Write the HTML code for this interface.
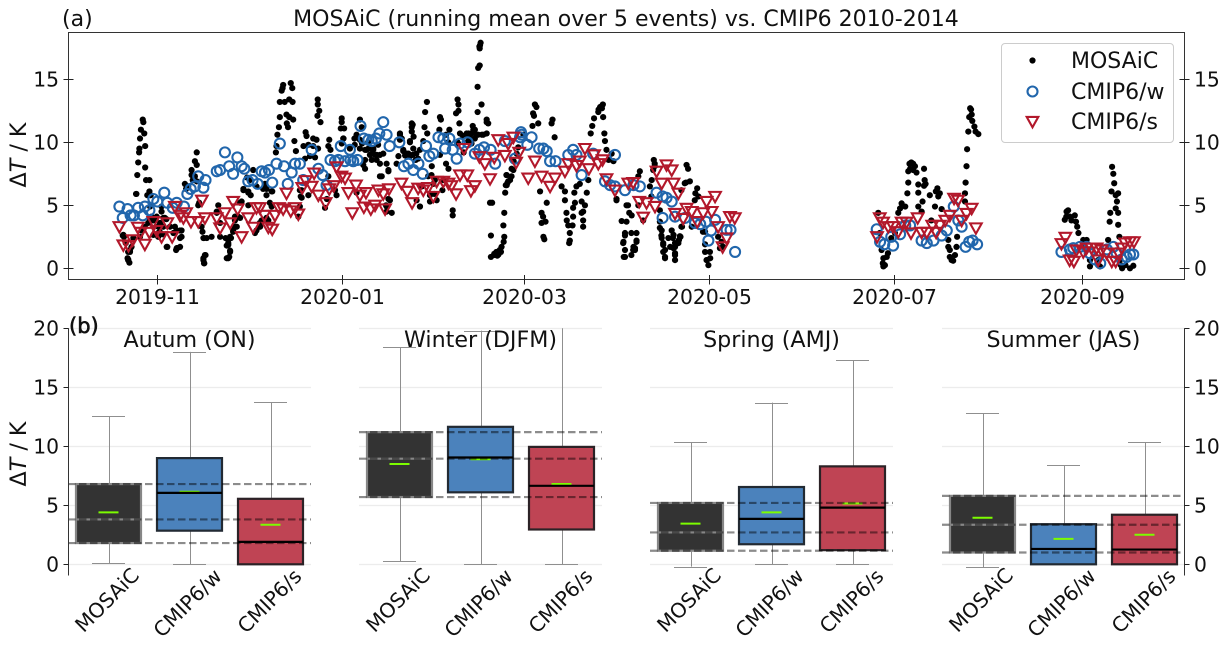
<!DOCTYPE html>
<html lang="en">
<head>
<meta charset="utf-8">
<title>MOSAiC vs CMIP6</title>
<style>
html,body{margin:0;padding:0;background:#fff;}
svg{display:block;}
text{font-family:"DejaVu Sans","Liberation Sans",sans-serif;fill:#111;}
</style>
</head>
<body>
<svg id="chart" xmlns="http://www.w3.org/2000/svg" width="1228" height="646" viewBox="0 0 1228 646">
  <rect x="0" y="0" width="1228" height="646" fill="#fff"/>
  <g id="panelA"></g>
  <g id="panelB"></g>
  <text x="62" y="26" font-size="22">(a)</text>
  <text x="626" y="26" font-size="22.05" text-anchor="middle">MOSAiC (running mean over 5 events) vs. CMIP6 2010-2014</text>
  <text transform="translate(26,155) rotate(-90)" font-size="22.2" text-anchor="middle">Δ<tspan font-style="italic">T</tspan> / K</text>
  <text transform="translate(26,454) rotate(-90)" font-size="22.2" text-anchor="middle">Δ<tspan font-style="italic">T</tspan> / K</text>
  <text x="69" y="333" font-size="21" stroke="#111" stroke-width="0.6">(b)</text>
  <g id="legend"></g>
</svg>
<script>
// Panel (a): x ticks
const dateTickDays = [0, 61, 121, 182, 243, 305];
const dateTickLabels = ['2019-11', '2020-01', '2020-03', '2020-05', '2020-07', '2020-09'];
const valueTicks = [0, 5, 10, 15];

// Each pair: [days since 2019-11-01, delta T in K]
const mosaicPoints = [
[-4.8,11.8],[-4.6,11.6],[-5.4,11],[-4.3,10.7],[-5.7,10.3],[-5.9,9.5],[-4,9.7],[-6,9.2],[-6.3,8.4],[-4,8],[-6.6,7.4],[-3.7,7],[-2.6,7],[-6.9,5.9],[-2.6,6.1],[-3.3,5.8],[-2.2,5.8],
[-9.6,0.7],[-9.2,0.45],[-9.8,0.8],[-9.6,1.3],[-9,1.3],[-11.4,2.6],[-11,2.5],[-10.4,2],[-8.5,1.7],[-7.9,2.4],[-5.7,2.5],[-5.2,3],[-4.1,3.3],[-3,3.6],[-2.4,3.8],[-1.3,3.8],[-2.4,4.9],[-1.9,4.1],[-0.2,4.1],[0.3,3.3],[0.3,2.5],[1.4,4.5],[2,3.3],[3.3,1.7],[6.2,1.45],[6.6,1.6],[7.5,1.7],[7.5,2.4],[5.8,3.3],[6.4,3],[7.5,3],[4.2,3.3],[5.3,2.8],[0.8,2.9],[1.7,2.7],[2.5,4],[3,3.9],
[-7,5.9],[-11.2,2.65],[-9,1.45],[-9.6,0.65],[3.1,1.7],[6.4,1.6],[8,2.5],[8,3],[0.9,3.6],[-1.3,2.65],[0.3,2.8],[2,4],[1.4,4.9],[10.2,6.5],[13.5,5],
[9.1,6.7],[9.5,6.3],[11.3,7.8],[11.3,7.4],[12.4,8.5],[13,8.2],[13,9.2],[12.4,7.3],[13,6.9],[11.7,7],[13.8,5.2],[14.6,3.3],[14.9,2.9],[15.4,2.4],[16.3,2.4],[17.9,2.5],[20.7,2.5],[15.9,1.05],[15.2,0.8],[15.4,0.4],[22.9,1.8],[24.3,2.4],[22.5,2.4],[23.4,2],[24,1.4],[23.4,0.8],[23.7,0.9],[20.1,5],[19.6,4.4],[20.7,3.6],[25.6,3.8],[26.2,3.3],[25,3],[27.3,5.2],[27.8,5.3],[26.7,4.1],[28.4,6.3],[30,6.1],[30.8,5.8],[31.6,7.8],[32.7,6.5],[34.9,6.3],[35.5,6.7],[36,5.8],[37.9,6.1],[33.8,3.6],[32.2,2.8],[32.7,3],[34.4,3.8],[37.1,5.2],[37.7,4.9],[36.6,3.8],[30.5,7],[29.6,7.2],
[15.2,2.4],[23.4,2.25],[24,2.5],[23.4,1.85],[24,1.3],[15.7,1.05],[15.2,0.65],[15.5,0.4],[22.9,0.8],[19.6,4.5],[25.6,3.3],[25,2.9],[25.6,4.1],[33.9,3.3],[36,4],[27.3,4],[28.4,6.2],[30,6],[36,6.3],[37.7,6.1],[30,5],[37.7,5],
[41.5,14.55],[44,14.7],[41.3,14.3],[41,14.1],[44.5,14.3],[40.4,13.2],[42,13.2],[43.5,13.4],[44.6,13.2],[40.4,12],[42.6,12.2],[43.5,12],[44.8,11.8],[42.7,11.5],[43.1,11.2],[40.1,11.2],[39.6,10.6],[39.3,9.7],[39.1,9.2],[45.2,10.1],[45.7,9.3],
[48.9,10.8],[49.2,10.5],[52.9,13.4],[52.9,13],[53.4,12.5],[52.8,12.1],[53.8,11.6],[51.4,10.3],[52.5,10.2],[49.8,9.8],[51.4,9.7],[48.2,9.7],[53,9.5],[50.3,8.9],[52,8.8],[48.7,8.7],[56.7,10.2],[56.4,9.7],[57.1,9.4],[47.3,5.7],[47.6,6.2],[47,4.9],[46.5,4.1],[55.3,4.8],[55.9,5.5],[59.1,5.8],[58.6,6.2],[56.4,7.3],[47,6.2],[49.8,5.8],[47.6,5.6],[60.8,11.9],[60.8,11.6],[60.5,11.1],[61.6,11.1],[61.3,10.3],[60.8,9.9],[63.5,9.5],[66.8,11.8],[67.4,11.2],[65.7,10.4],[65.1,9.8],[66.8,9.5],[69,9.4],[70.1,9],[71.8,9],[73.4,9],[68.5,8.6],[70.7,8.6],[72.3,8.6],[71.2,9.5],[73.4,8.3],[74,7.3],[75.6,8.3],[76.2,7.7],[75.6,4.5],[76.2,5.5],[74.5,9.1],[72.8,9.8],[67.5,9.9],[69.5,10],
[68.5,9.4],[70.7,9.1],[72.3,9],[71.2,9.4],[69.6,9.5],[65.7,10.6],[61.4,10.3],[65,10.3],[66.8,10.2],[67.9,8.2],[68.5,7.9],[73.4,7.3],[76.2,7.8],[81.1,9.3],[82.8,9.1],[81.9,9],[84.2,9],[85.4,9.1],[86.6,9.4],[86,8.7],[87.7,10.1],[84.2,11.4],[83.3,10],[80,10.7],[80,10.2],[90.4,7.4],[91.5,7],[94.3,7],[95.2,8.3],[93.2,9],[95.9,10],[99.2,9.9],[103.6,10.7],[102.5,10.1],[104.7,10.3],[105.8,10.6],[108.6,10.7],[103.6,9.9],[102,10.7],[104.7,11],[108.6,11.6],[107,10.6],[115.2,7.4],[116.3,7],[115.2,6.6],[117.4,7.8],[114.7,6],[89.9,5.8],[91,6.7],[86.6,4.9],[76.7,5.4],[77.3,4.4],[65.7,6],[75.6,4.9],[109.7,5.2],
[80,10.6],[80.6,10.3],[83.9,11.5],[83.9,11.2],[83.9,10.85],[84.5,10.45],[83.3,10.1],[81.1,9.4],[82.2,9.1],[81.7,8.95],[83.3,8.9],[78.9,8.3],[84.4,9.5],[79.5,8.9],[85.2,8.6],[75.4,5],[88.9,13.2],[88.3,12.4],[88.1,11.2],[89,10.7],[93.2,12],[93.5,11.8],[93,11],[96.3,11],[95.2,10.6],[90.5,8.1],[89.3,7.3],[92.1,5.4],[89.9,5.3],[86.6,4.9],[85.5,5.4],[91.3,5.9],[87.2,6.5],[94,6.2],[96,7.9],
[99,13.4],[99.3,13],[99.3,12.5],[98.5,12.3],[99.6,11.5],[99.8,10.7],[99,10],[97.4,4.6],[97.4,4.2],[104,11.3],[104.2,11],[102.6,10.7],[103.1,10.4],[105.3,10.6],[107.5,10.6],[108.6,11.8],[109.1,11.5],[105.6,12.4],[106.9,13],[105.6,14.4],[105.8,15.9],[106.3,16.1],[106.2,17.6],[106.6,17.9],[106.4,17.7],[106.3,17.45],[101,9.2],[100.8,10.5],
[110.4,5.2],[114.4,4.4],[114.1,3.4],[110,2.6],[114.4,2.5],[114.2,2.1],[113.5,1.7],[112.9,1.45],[111.8,1.3],[111.1,1.15],[110,0.9],[112.5,1.1],[113.3,1.3],[111,1.05],[112.1,1],
[114.9,6.6],[115.1,7.4],[115.7,6.9],[116.8,7.3],[116.8,7.9],[118.5,9.1],[117.5,8.5],[115.5,6.8],[119,9.6],[124.5,13],[125,12.8],[123.9,12.3],[123.7,11.3],[125.6,11.5],[124.2,12.1],[120.7,10.6],[130.3,11.8],[130,11.5],[131,10.4],[133.3,6.5],[134.4,6.1],[126.2,6.1],[128.4,5.2],[134.4,5.4],[126.7,4.4],[127.2,4.1],[128,3.7],[126.7,3.6],[127.3,2.5],[127.6,2.3],
[134.9,4.4],[137.1,4.8],[138.2,6.5],[139.3,6.7],[137.5,6],[141.6,6],[137.7,5.2],[139.9,5.3],[141,5],[140.4,4.5],[139.9,4.4],[135,3.8],[137.1,4.1],[135.5,3.4],[136.9,3.4],[140.4,3.8],[140.4,3.3],[136,2.8],[136,2.2],[135.8,2],
[146,12.8],[145.5,12.6],[146.9,13],[146.6,12.7],[145.4,12.4],[144,11.9],[147,12],[143.4,11.3],[142.9,10.7],[147.4,10.7],[147.6,10.1],[148.1,9.4],[142.1,7],[149.8,9.1],[150.4,8.5],[148.8,8.6],
[151.4,5.5],[154.7,5],[153.1,3.75],[154.7,3.7],[154.2,2.6],[153.7,2.1],[154.2,1.45],[154.2,0.9],[156.3,2.8],[158,2.8],[158,2.2],[157,1.7],[157.5,1.45],[156.3,1.05],[155.6,4.4],[160.2,3.8],[163.7,8.6],[164,8.3],[163.5,7.8],[165.7,3.2],[166.2,2.6],[166.8,2],[167.4,1.45],[167.4,0.9],[169.6,3],[171.3,2],[170.7,1.7],[170,2.4],[169.1,1.7],[170.7,0.65],[170.7,1.05],[172,2.25],[172.5,2.5],[172.8,3.3],[174.5,8.2],[175,7.9],[175.6,6.9],[174.3,6.8],[172.8,6.2],[178,6.35],[177.4,5.95],[178.4,5.7],[180.6,2.9],[180.6,1.3],[181.2,0.65],[181.7,0.25],[182.3,0.8],[180.6,1.9],[185.5,1.6],[186,2.1],[184.9,2.5],
[164,8.1],[173.9,6.75],[163,7],[162.4,6.5],[159.1,7.7],[158.6,7.3],[177.2,5.4],[162.9,5.7],[151.4,5.4],[155.2,5],[156.4,4.2],[154.2,2.8],[153.6,2],[158,2.1],[156.9,1.45],[157.5,1.6],[153.8,0.9],[165.7,3.7],[166.3,3],[166.3,2.4],[168.5,2.4],[170.2,2.65],[172.3,2.55],[166.8,1.85],[170.7,2],[171.8,2],[170.2,1.6],[166.8,1.3],[170.7,1.2],[167.4,0.8],[173,3.3],[176.2,3.3],[165.7,4.6],[158.6,5],[182.2,1.3],[181.1,0.65],[179.9,2.9],[186.6,1.7],
[239.4,0.15],[239.9,0.25],[239.2,0.4],[240.5,0.9],[239.4,0.8],[240.9,1.2],[238.8,1.45],[242,2.4],[243.2,2.8],[238.2,2.8],[237.7,4.4],[244.3,4.4],[244.9,4.75],[245.4,5.15],[246.6,4.9],[247.3,5.95],[250.9,6],[250.9,6.65],[247.6,6.8],[252.8,6.55],[253,7],[253.3,6.7],[252.8,7.9],[248,8.3],[248.6,8.4],[249.2,8.3],[247.6,7.7],[248.2,7.9],[249.2,7.8],[249.8,8.1],[250.3,7.6],[250.9,4.9],[252.3,5.3],[252,4.5],[254.7,5.8],[255.2,3.8],[256.4,4.9],[256.7,6.1],[258,5.95],[257.2,6.35],[257.5,5.7],[258.6,4.7],[260.8,2.25],[260.8,1.7],[261.3,1.45],[261.3,0.9],[261.9,0.65],[262.4,0.6],[263,1.05],[263.5,1.7],[263.7,2.5],[266.3,5.3],[266.3,5.95],[266.5,6.8],[266.8,8.1],[267,9.45],[267.4,10.85],[267.7,12],[268,12.7],[268.3,12.6],[268.5,12.2],[268.7,11.7],[269.4,11.25],[269.8,10.85],[270.7,10.65],
[299.2,3.85],[299.8,4.5],[300.3,4.6],[300.9,4.1],[299.7,4.1],[301.4,3.8],[302.5,4.2],[302.9,3.7],[303.3,3.3],[303.7,2.8],[305.3,2.25],[306.4,2.25],[305.3,1.7],[307.5,0.65],[307.5,0.15],[310.8,0.15],[310.2,0.65],[313.5,2.25],[314,3.7],[314.2,4.4],[314.8,8.05],[315.2,7.5],[315.5,6.75],[314.6,6.1],[316,5.8],[316.8,5.95],[316.4,5.3],[316,4.75],[316.8,4.4],[316.8,3.45],[317.2,2.5],[317.7,0.25],[318.1,0],[319.2,0.25],[320.7,0],[321.8,0.2],[317.5,0.7]
];

const cmipWarmPoints = [
[-12.5,4.9],[-11.4,4],[-9.8,4.7],[-8.8,4.2],[-7.7,4.2],[-6.3,4.8],[-4.8,4.2],[-4.1,4.9],[-2.6,4.6],[-1.3,5.5],[0,5.3],[2.3,6],[3.3,5.2],[5.1,4.8],[6.4,5.2],[8.8,4.9],[9.9,5.9],[11,6.3],[12.4,6.5],[13.5,7.3],[15.2,6.4],[15.9,7],[19.6,7.7],[20.7,7.8],[22.3,9.2],[23.7,8.1],[25,7.5],[26.4,8.8],[27.8,8.1],[28.7,7.9],[30,6.9],[31.4,7],[33.1,6.7],[34.4,7.7],[35.5,7.6],[36.8,7.8],[37.9,6.8],[39.3,8.3],[40.4,9.9],[41.8,8.1],[43,6.7],[44.3,7.6],[45.4,8.3],[47,8.3],[48.1,7],[50.9,9.4],[53.1,7.9],[54.5,7.4],[55.8,6.6],[57.1,8.6],[58.6,8.5],[59.7,8.6],[60.5,9.7],[61.9,8.5],[63.5,9.4],[63.7,8.6],[64.6,8.5],[66,8.6],[67,11.3],[68.1,10.3],[69.6,10.2],[70.7,10.1],[72.1,10.3],[73.2,10.7],[74.5,11.6],[75.6,10.6],[76.6,9.7],[79.8,10],[81.3,8.1],[82.8,8.3],[84.4,7.8],[86.1,8.3],[87.5,7.5],[88.6,9.7],[89.7,8.9],[91,9.1],[92.7,10.4],[94.3,10.3],[94.9,9.5],[96.3,10.3],[97.4,9.4],[98.7,8.7],[99.8,9.9],[102.3,10],[104.7,9.1],[106.2,9.4],[107.7,9.6],[109.9,9.4],[111.4,8.3],[114.6,10.1],[117.9,8.7],[119.9,10.8],[120.1,10.6],[119.6,10.4],[122,9.8],[123.4,10.4],[125.9,9.5],[127.3,9.5],[128.4,9.3],[129.5,8.5],[131.3,8.5],[135.5,9],[137.1,9.4],[138.2,9],[139.9,7.4],[143.7,9.1],[150.9,9],[147.6,6.9],[149.3,6.6],[150.9,6.5],[154.2,6.2],[157,6.6],[159.1,6.5],[164.6,6],[166.6,5.7],[167.9,5.6],[169.6,5.3],[166.6,4],[170.7,4.1],[174,4],[177.3,3.6],[179,3.5],[180.9,3.7],[181.7,2.2],[182.6,3],[183.9,3.85],[187.7,3.05],[189,3.05],[190.5,1.3],
[237.2,3.1],[238.3,2.1],[239.7,1.9],[242.6,1.8],[242,2.5],[244.9,2.7],[246.6,3.4],[248.2,3.4],[252,2.2],[253.7,2],[255.9,2.2],[258.6,2.6],[260.3,3],[262.6,4.9],[265.2,3.3],[264.1,3.8],[266.5,1.7],[267.7,2.1],[268.8,2.2],[270.3,1.9],
[298.1,1.3],[300.9,1.5],[302,1.6],[304.2,1.7],[306.4,1.7],[309.2,0.7],[310.9,0.4],[313.1,1.5],[315.2,1.7],[318,0.7],[319.6,0.9],[321.8,1.1],[320.7,1.1],[316.3,1.2],[307.4,1.2]
];

const cmipSoutherlyPoints = [
[-12.5,3.3],[-11.2,1.85],[-9.5,1.8],[-8.1,2.25],[-6.4,3.25],[-5.5,2.85],[-4.1,1.9],[-2.6,2.85],[-1.3,3.7],[-0.2,3],[1.4,2.5],[3.3,3.6],[4.9,2.5],[5.8,4.9],[7.5,4.2],[8.6,4],[9.5,4.4],[11.1,3.7],[13.5,3.7],[14.7,5.4],[15.7,4],[19.6,4],[20.7,3.2],[22.3,4.4],[24,3.6],[25,5.3],[26.5,4.7],[27.8,2.5],[30,4],[31.6,3.25],[32.7,4.8],[33.8,4.8],[35.3,4.2],[36.6,3.25],[37.9,3.1],[38.8,4.2],[40.1,4.8],[41.5,4.7],[44,4.55],[45.4,4.8],[46.5,4.3],[42.6,5.95],[47.8,6.4],[49,6.95],[50.9,6.5],[51.7,7.55],[53.1,5.8],[55.5,5.2],[56.7,6.3],[58.2,6.55],[59.1,8.05],[60.7,7.3],[61.9,7.15],[63,6],[65.5,6.6],[66.8,5.8],[64.3,4.4],[68.8,6],[68.1,4.85],[70.4,4.7],[71.8,5],[72.9,6.2],[74.5,5.9],[75.1,4.7],[76.4,6.3],[80.5,6.75],[82.4,6.1],[84,5.2],[86,6.35],[87.7,6.2],[89.3,6.4],[91,5.7],[92.1,6.9],[94.3,6.9],[96,6.75],[97,6.55],[98.5,5.9],[99.8,7.4],[102.2,7.4],[104.7,6.55],[103.4,6.15],[101.1,9.5],[106.2,8.85],[108,8.3],[109.7,7.1],[111.1,8.8],[112.4,10.2],[114.6,8.95],[115.7,9.9],[117.4,10.4],[119.3,9.2],[118.3,8.4],[122.3,7.15],[124.5,8.5],[126.7,7.3],[129.5,6.5],[131.1,7.15],[134.4,7.7],[135.5,8.3],[138.2,8.15],[139.3,8.5],[141,9.5],[142.3,7.9],[144,9],[145.4,8.3],[146.8,8.6],[148.1,7.1],[150.9,6.2],[155.3,6.75],[156.9,6.8],[158.9,5.3],[160.2,4.05],[161.3,5.2],[164.1,4.9],[164.6,7.7],[166.3,6.75],[167.9,8.2],[169.6,7.8],[170.2,6.75],[171.8,5.95],[170.7,4.35],[173.4,3.95],[174.5,4.75],[176.2,4.5],[178,3.7],[180,4.4],[181.1,5.3],[183.9,5.7],[182.8,4.5],[184.9,3.3],[187.7,2.4],[186.4,1.7],[188.8,4.1],[190.4,4],
[238.2,4],[237.3,2.5],[239.3,3.65],[241,3.3],[242.6,3.3],[244.3,2.9],[245.4,3.65],[247,3.65],[248.5,2.8],[250.7,4],[252,2.85],[253.7,2.85],[255.5,3.4],[256.8,2.85],[258,3.4],[259.8,3.8],[261.3,4.2],[262.7,5.55],[264,5.4],[265.2,3.8],[266.8,4.35],[268.5,4.75],[269.9,3.2],
[298.1,1.95],[299.4,2.45],[300.8,0.65],[302.2,0.55],[303,1.45],[305.3,1.3],[306.4,1.6],[308,1.6],[309.7,1.6],[311.3,1.45],[313,1.2],[314.7,0.55],[316,0.55],[316.9,1.2],[318,1.6],[319.1,2],[320.7,2.1],[322,2.1],[310.2,0.65]
];

// Panel (b): boxplot statistics
const seasonNames = ['Autum (ON)', 'Winter (DJFM)', 'Spring (AMJ)', 'Summer (JAS)'];
const boxCategories = ['MOSAiC', 'CMIP6/w', 'CMIP6/s'];
const whiskerHigh = [[12.55, 18, 13.75], [18.4, 19.8, 21.5], [10.35, 13.7, 17.3], [12.8, 8.4, 10.35]];
const quartile3 = [[6.8, 9, 5.55], [11.2, 11.65, 9.95], [5.2, 6.55, 8.3], [5.8, 3.4, 4.2]];
const medians = [[3.8, 6.05, 1.9], [8.95, 9.05, 6.65], [2.7, 3.85, 4.8], [3.35, 1.3, 1.25]];
const quartile1 = [[1.8, 2.85, 0], [5.7, 6.1, 2.95], [1.15, 1.7, 1.2], [1, 0, 0]];
const whiskerLow = [[0.1, 0, 0], [0.25, 0, 0], [-0.2, 0, 0], [-0.25, 0, 0]];
const means = [[4.4, 6.15, 3.35], [8.5, 8.9, 6.8], [3.45, 4.4, 5.15], [3.95, 2.15, 2.5]];
const boxValueTicks = [0, 5, 10, 15, 20];

const NS = 'http://www.w3.org/2000/svg';
function make(tag, attrs, parent) {
  const el = document.createElementNS(NS, tag);
  for (const k in attrs) el.setAttribute(k, attrs[k]);
  parent.appendChild(el);
  
  return el;
}

// ---------- Panel (a) ----------
const panelA = document.getElementById('panelA');
const A = {left: 68.5, right: 1184.5, top: 32.5, bottom: 279.5};
const TICK_FONT = 20.3;
function xDay(d) { return 157.3 + 3.033 * d; }
function yA(v) { return 268.3 - 12.6 * v; }

const frame = make('rect', {x: A.left, y: A.top, width: A.right - A.left, height: A.bottom - A.top, fill: 'none', stroke: '#333', 'stroke-width': 1}, panelA);


dateTickDays.forEach(function (d, i) {
  const px = Math.round(xDay(d)) + 0.5;
  const t = make('line', {x1: px, x2: px, y1: 275, y2: 284.5, stroke: '#222', 'stroke-width': 1}, panelA);
  
  const lab = make('text', {x: px, y: 304, 'font-size': TICK_FONT, 'text-anchor': 'middle'}, panelA);
  
  lab.textContent = dateTickLabels[i];
});

valueTicks.forEach(function (v) {
  const py = Math.round(yA(v)) + 0.5;
  const l = make('line', {x1: 63.5, x2: 73.5, y1: py, y2: py, stroke: '#222', 'stroke-width': 1}, panelA);
  
  const r = make('line', {x1: 1179.5, x2: 1189.5, y1: py, y2: py, stroke: '#222', 'stroke-width': 1}, panelA);
  
  const ll = make('text', {x: 59, y: py + 7, 'font-size': TICK_FONT, 'text-anchor': 'end'}, panelA);
  
  ll.textContent = v;
  const rl = make('text', {x: 1194, y: py + 7, 'font-size': TICK_FONT}, panelA);
  
  rl.textContent = v;
});

const mosaicLayer = make('g', {}, panelA);

mosaicPoints.forEach(function (p) {
  const c = make('circle', {cx: xDay(p[0]), cy: yA(p[1]), r: 3.1, fill: '#000'}, mosaicLayer);
  
});

const warmLayer = make('g', {}, panelA);

cmipWarmPoints.forEach(function (p) {
  const c = make('circle', {cx: xDay(p[0]), cy: yA(p[1]), r: 5, fill: 'none', stroke: '#2166ac', 'stroke-width': 2.1}, warmLayer);
  
});

function triPoints(cx, cy) {
  return (cx - 5.8) + ',' + (cy - 4.6) + ' ' + (cx + 5.8) + ',' + (cy - 4.6) + ' ' + cx + ',' + (cy + 5.8);
}
const southLayer = make('g', {}, panelA);

cmipSoutherlyPoints.forEach(function (p) {
  const c = make('polygon', {points: triPoints(xDay(p[0]), yA(p[1])), fill: 'none', stroke: '#b2182b', 'stroke-width': 2.1}, southLayer);
  
});

// ---------- Legend ----------
const legend = document.getElementById('legend');
const legendBox = make('rect', {x: 1001.5, y: 43.5, width: 172, height: 99, rx: 3.5, fill: '#fff', 'fill-opacity': 0.85, stroke: '#ccc', 'stroke-width': 1}, legend);

const legendDot = make('circle', {cx: 1032.5, cy: 60.5, r: 3.1, fill: '#000'}, legend);

const legendCircle = make('circle', {cx: 1032.5, cy: 91.5, r: 5, fill: 'none', stroke: '#2166ac', 'stroke-width': 2.1}, legend);

const legendTri = make('polygon', {points: triPoints(1032.5, 121.5), fill: 'none', stroke: '#b2182b', 'stroke-width': 2.1}, legend);

const legendY = [68, 99, 129];
boxCategories.forEach(function (name, i) {
  const t = make('text', {x: 1071, y: legendY[i], 'font-size': 22}, legend);
  
  t.textContent = name;
});

// ---------- Panel (b) ----------
const panelB = document.getElementById('panelB');
const panelLefts = [68, 359, 650, 942];
const PANEL_W = 243, STEP = 81, BOX_W = 65, CAP_W = 33;
const fills = ['#333333', '#4b82bc', '#bf4454'];
const edges = ['#868686', '#222a33', '#2b2226'];
const medianColors = ['#868686', '#000', '#000'];
const labelDx = [3.5, 3, 4];
const labelY = [605, 608, 606];
function yB(v) { return 564.3 - 11.8 * v; }
const B_TOP = 328.3;

seasonNames.forEach(function (season, s) {
  const left = panelLefts[s];
  const g = make('g', {}, panelB);
  

  boxValueTicks.forEach(function (v) {
    const py = Math.round(yB(v)) + 0.5;
    const gl = make('line', {x1: left, x2: left + PANEL_W, y1: py, y2: py, stroke: '#ececec', 'stroke-width': 1.2}, g);
    
  });

  boxCategories.forEach(function (cat, i) {
    const cx = left + STEP * (i + 0.5);
    const wx = Math.round(cx) + 0.5;
    const hi = Math.min(whiskerHigh[s][i], 20);
    const w = make('line', {x1: wx, x2: wx, y1: yB(hi), y2: yB(whiskerLow[s][i]), stroke: '#8f8f8f', 'stroke-width': 1}, g);
    
    if (whiskerHigh[s][i] <= 20) {
      const ctY = Math.round(yB(hi)) + 0.5;
      const ct = make('line', {x1: cx - CAP_W / 2, x2: cx + CAP_W / 2, y1: ctY, y2: ctY, stroke: '#8f8f8f', 'stroke-width': 1}, g);
      
    }
    const cbY = Math.round(yB(whiskerLow[s][i])) + 0.5;
    const cb = make('line', {x1: cx - CAP_W / 2, x2: cx + CAP_W / 2, y1: cbY, y2: cbY, stroke: '#8f8f8f', 'stroke-width': 1}, g);
    
    const box = make('rect', {x: cx - BOX_W / 2, y: yB(quartile3[s][i]), width: BOX_W, height: yB(quartile1[s][i]) - yB(quartile3[s][i]), fill: fills[i], stroke: edges[i], 'stroke-width': 2.2}, g);
    
    const meanLine = make('line', {x1: cx - 10, x2: cx + 10, y1: yB(means[s][i]), y2: yB(means[s][i]), stroke: '#7cfc00', 'stroke-width': 2}, g);
    
    const med = make('line', {x1: cx - BOX_W / 2, x2: cx + BOX_W / 2, y1: yB(medians[s][i]), y2: yB(medians[s][i]), stroke: medianColors[i], 'stroke-width': 2.2}, g);
    
    const lab = make('text', {'font-size': TICK_FONT, 'text-anchor': 'middle', 'transform': 'translate(' + (cx + labelDx[i]) + ',' + labelY[i] + ') rotate(-45)'}, g);
    
    lab.textContent = cat;
  });

  [quartile3[s][0], medians[s][0], quartile1[s][0]].forEach(function (v) {
    const d = make('line', {x1: left, x2: left + PANEL_W, y1: yB(v), y2: yB(v), stroke: '#000', 'stroke-opacity': 0.45, 'stroke-width': 2.2, 'stroke-dasharray': '7.5 3.5'}, g);
    
  });

  const title = make('text', {x: left + PANEL_W / 2, y: 347, 'font-size': 22.2, 'text-anchor': 'middle'}, g);
  
  title.textContent = season;
});

const leftSpine = make('line', {x1: 68.5, x2: 68.5, y1: B_TOP, y2: 575.5, stroke: '#333', 'stroke-width': 1}, panelB);

const rightSpine = make('line', {x1: 1184.5, x2: 1184.5, y1: B_TOP, y2: 575.5, stroke: '#333', 'stroke-width': 1}, panelB);

boxValueTicks.forEach(function (v) {
  const py = Math.round(yB(v)) + 0.5;
  const l = make('line', {x1: 63.5, x2: 68.5, y1: py, y2: py, stroke: '#222', 'stroke-width': 1}, panelB);
  
  const r = make('line', {x1: 1184.5, x2: 1189.5, y1: py, y2: py, stroke: '#222', 'stroke-width': 1}, panelB);
  
  const ll = make('text', {x: 59, y: py + 7, 'font-size': TICK_FONT, 'text-anchor': 'end'}, panelB);
  
  ll.textContent = v;
  const rl = make('text', {x: 1194, y: py + 7, 'font-size': TICK_FONT}, panelB);
  
  rl.textContent = v;
});
</script>
</body>
</html>
